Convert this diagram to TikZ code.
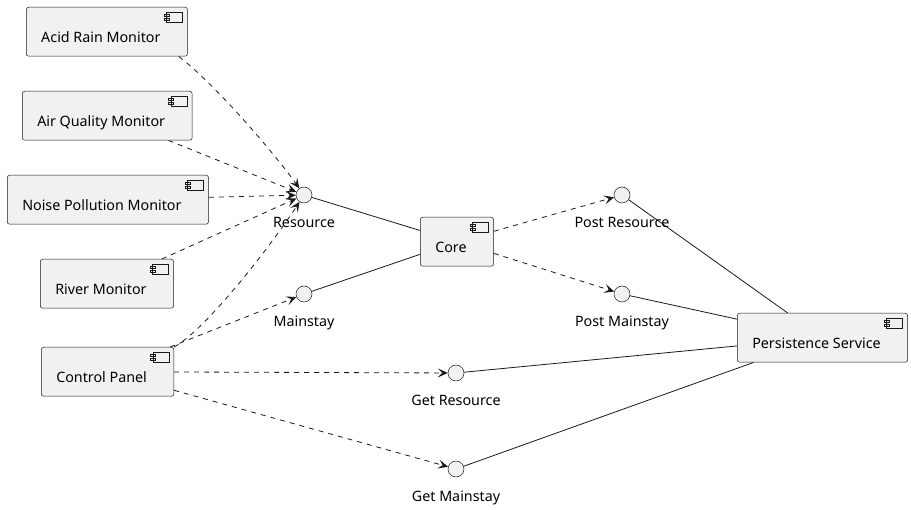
\documentclass[tikz,border=0pt]{standalone}
\usepackage{fontspec}
\setmainfont{Noto Sans}
\usetikzlibrary{arrows.meta}
\definecolor{umlfill}{HTML}{F1F1F1}
\definecolor{umlline}{HTML}{181818}

\begin{document}
\begin{tikzpicture}[x=1pt,y=1pt,>={Stealth[length=10pt,width=9pt,inset=4.5pt]},
  font=\fontsize{14.3}{16}\selectfont,
  comp/.style={draw=umlline,fill=umlfill,rounded corners=2.5pt,line width=0.5pt,
    anchor=north west,minimum height=49pt,inner xsep=15pt,inner ysep=0pt,
    text height=22pt,text depth=0pt,execute at end node={\hspace*{12pt}},
    path picture={
      \draw[umlline,line width=0.5pt,sharp corners,fill=umlfill]
        ([shift={(-21,-5)}]path picture bounding box.north east) rectangle ++(16,-10)
        ([shift={(-23.5,-7)}]path picture bounding box.north east) rectangle ++(5,-2.5)
        ([shift={(-23.5,-11)}]path picture bounding box.north east) rectangle ++(5,-2.5);}},
  iface/.style={circle,draw=umlline,fill=umlfill,line width=0.5pt,minimum size=16pt,
    inner sep=0pt},
  every label/.style={inner sep=0pt,text height=10pt,text depth=3pt,yshift=-14pt},
  uses/.style={->,umlline,line width=0.8pt,dash pattern=on 5pt off 5pt},
  link/.style={-,umlline,line width=0.8pt}]

  \useasboundingbox (0,0) rectangle (911,-510);

  % components
  \node[comp] (ARM) at (26,-7) {Acid Rain Monitor};
  \node[comp] (AQM) at (22,-91) {Air Quality Monitor};
  \node[comp] (NPM) at (7,-175) {Noise Pollution Monitor};
  \node[comp] (RM) at (40,-259) {River Monitor};
  \node[comp] (CP) at (41,-347) {Control Panel};
  \node[comp] (C) at (420,-217) {Core};
  \node[comp] (PS) at (737,-313) {Persistence Service};

  % interfaces
  \node[iface,label=below:Resource] (R) at (304,-195) {};
  \node[iface,label=below:Mainstay] (M) at (304,-294) {};
  \node[iface,label=below:Post Resource] (PR) at (622,-195) {};
  \node[iface,label=below:Post Mainstay] (PM) at (622,-294) {};
  \node[iface,label=below:Get Resource] (GR) at (456,-373) {};
  \node[iface,label=below:Get Mainstay] (GM) at (456,-469) {};

  \path[link]
    (R) edge (C)
    (M) edge (C)
    (PR) edge (PS)
    (PM) edge (PS)
    (GR) edge (PS)
    (GM) edge (PS);

  \path[uses]
    (AQM) edge (R)
    (NPM) edge (R)
    (RM) edge (R)
    (CP) edge (M)
        edge (GR)
        edge (GM)
    (C) edge (PR)
        edge (PM);
  % the two bent ones
  \draw[uses] ([xshift=-9pt]ARM.south east) .. controls (214,-83) and (275,-154) .. (R);
  \draw[uses] (CP.north east) .. controls (205,-330) and (268,-250) .. (R);
\end{tikzpicture}
\end{document}
